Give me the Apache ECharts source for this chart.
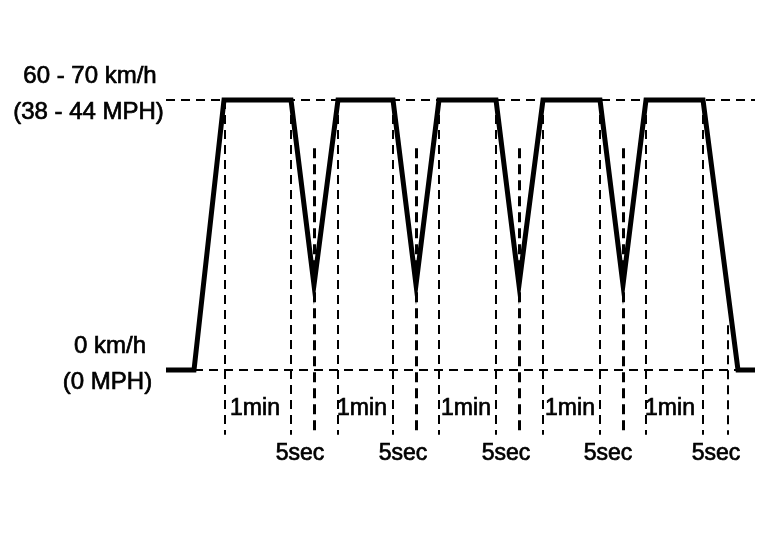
<!DOCTYPE html>
<html>
<head>
<meta charset="utf-8">
<script src="https://cdn.jsdelivr.net/npm/echarts@6/dist/echarts.min.js"></script>
<style>
html,body{margin:0;padding:0;background:#fff;}
#chart{width:768px;height:544px;}
</style>
</head>
<body>
<div id="chart"></div>
<script>
// time (arbitrary schematic units) and speed (km/h)
var profileTime  = [6, 34, 64, 131, 154, 178, 233, 256, 279, 336, 359, 383, 440, 463, 486, 543, 578, 595];
var profileSpeed = [0, 0, 65, 65, 20.5, 65, 65, 20.5, 65, 65, 20.5, 65, 65, 20.5, 65, 65, 0, 0];

var topSpeed = 65;
var baseSpeed = 0;
var guideBottom = -15.6;

// 1 min boundaries
var minuteMarks = [65, 131, 178, 233, 279, 336, 383, 440, 486, 543];
// 5 sec dip marks
var secMarks = [154, 256, 359, 463];
var secMarkTop = 53.4;
var lastSecMark = 568;
var lastSecMarkTop = 10.8;

var minuteLabelX = [95, 202, 306, 410, 510];
var minuteLabelY = -9.3;
var secLabelX = [140, 243, 346, 448, 556];
var secLabelY = -20.1;

var topLabels = ['60 - 70 km/h', '(38 - 44 MPH)'];
var bottomLabels = ['0 km/h', '(0 MPH)'];

var FONT = '"Liberation Sans", Arial, sans-serif';

var profileData = profileTime.map(function (t, i) { return [t, profileSpeed[i]]; });

function vline(x, y1, y2) { return [{ coord: [x, y1] }, { coord: [x, y2] }]; }

var thinLines = minuteMarks.map(function (x) { return vline(x, topSpeed, guideBottom); });
thinLines.push(vline(lastSecMark, lastSecMarkTop, guideBottom));
var thickLines = secMarks.map(function (x) { return vline(x, secMarkTop, guideBottom); });

var hLines = [
  [{ coord: [profileTime[0], topSpeed] }, { coord: [profileTime[profileTime.length - 1], topSpeed] }],
  [{ coord: [profileTime[1], baseSpeed] }, { coord: [profileTime[profileTime.length - 1], baseSpeed] }]
];

var labelData = [];
minuteLabelX.forEach(function (x) { labelData.push({ value: [x, minuteLabelY], name: '1min' }); });
secLabelX.forEach(function (x) { labelData.push({ value: [x, secLabelY], name: '5sec' }); });

function sideText(x, y, txt) {
  return { type: 'text', x: x, y: y, style: { text: txt, font: '24px ' + FONT, fill: '#000', stroke: '#000', lineWidth: 0.7, textAlign: 'center', textVerticalAlign: 'middle' } };
}

var chart = echarts.init(document.getElementById('chart'), null, { renderer: 'canvas' });
chart.setOption({
  animation: false,
  backgroundColor: '#ffffff',
  grid: { left: 160, width: 600, top: 100, height: 373.85 },
  xAxis: { type: 'value', min: 0, max: 600, show: false },
  yAxis: { type: 'value', min: -25, max: 65, show: false },
  series: [
    {
      type: 'line', data: [], silent: true, z: 1,
      markLine: {
        silent: true, symbol: 'none', animation: false,
        label: { show: false },
        lineStyle: { color: '#000', width: 2, type: [9, 6] },
        data: hLines.concat(thinLines)
      }
    },
    {
      type: 'line', data: [], silent: true, z: 1,
      markLine: {
        silent: true, symbol: 'none', animation: false,
        label: { show: false },
        lineStyle: { color: '#000', width: 3, type: [10, 6] },
        data: thickLines
      }
    },
    {
      type: 'line', data: profileData, symbol: 'none', z: 5, clip: false,
      lineStyle: { color: '#000', width: 5, join: 'miter', miterLimit: 20, cap: 'butt' }
    },
    {
      type: 'scatter', data: labelData, symbolSize: 1, z: 6, clip: false, silent: true,
      itemStyle: { color: '#000', opacity: 0 },
      label: {
        show: true, position: 'inside', formatter: '{b}',
        color: '#000', opacity: 1, textBorderColor: '#000', textBorderWidth: 0.7,
        fontFamily: FONT, fontSize: 23
      }
    }
  ],
  graphic: [
    sideText(90, 76.5, topLabels[0]),
    sideText(88.5, 112, topLabels[1]),
    sideText(110, 346, bottomLabels[0]),
    sideText(107.5, 382, bottomLabels[1])
  ]
});
</script>
</body>
</html>
